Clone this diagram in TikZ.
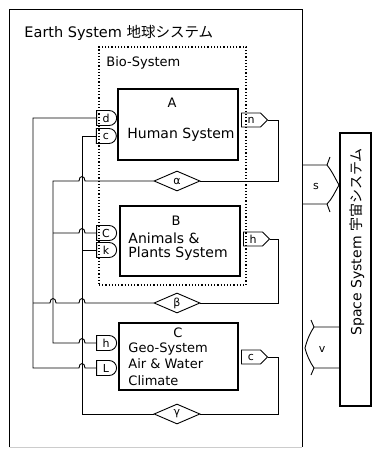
\documentclass[tikz,border=0pt]{standalone}
\usepackage{fontspec}
\setmainfont{DejaVu Sans}
\newfontfamily\jpfont{Noto Sans CJK JP}
\usetikzlibrary{shapes.geometric,shapes.misc,shapes.symbols}
\begin{document}
\begin{tikzpicture}[x=1pt,y=-1pt,line width=0.9pt,
  sysbox/.style={draw,line width=1.1pt,inner sep=0pt},
  inport/.style={draw,rounded rectangle,rounded rectangle west arc=none,minimum width=22pt,minimum height=15pt,inner sep=1pt,font=\fontsize{11}{11}\selectfont},
  outport/.style={draw,signal,signal to=east,minimum width=26pt,minimum height=14pt,inner sep=1pt,font=\fontsize{11}{11}\selectfont},
  junct/.style={draw,diamond,aspect=2.3,minimum width=46pt,minimum height=20pt,inner sep=0pt,font=\fontsize{11}{11}\selectfont},
  lbl/.style={inner sep=0pt,font=\fontsize{13}{14}\selectfont},
  sml/.style={inner sep=0pt,font=\fontsize{11}{11}\selectfont}]
\useasboundingbox (0,0) rectangle (373,449);
\fill[white] (0,0) rectangle (373,449);

% Earth system frame
\node[minimum width=292pt,minimum height=437pt,inner sep=0pt] (earth) at (156,228.5) {};
\draw[line width=1.1pt] (earth.south west) -- (earth.north west) -- (earth.north east) -- (earth.south east);
\draw[gray!40] (earth.south west) -- (earth.south east);
\node[lbl,anchor=west,font=\fontsize{14.5}{15}\selectfont] (etitle) at (24,33) {Earth System {\jpfont 地球システム}};

% Bio-system dotted frame
\node[draw,dotted,line width=1.2pt,minimum width=147pt,minimum height=238pt,inner sep=0pt] (bio) at (172.5,166) {};
\node[lbl,anchor=west] (biotitle) at (106,63) {Bio-System};

% System boxes
\node[sysbox,minimum width=120pt,minimum height=71pt] (A) at (178,124.5) {};
\node[lbl] (Alab) at (172,103) {A};
\node[lbl,font=\fontsize{14}{14}\selectfont] (Atxt) at (181,135) {Human System};

\node[sysbox,minimum width=120pt,minimum height=70pt] (B) at (180,241) {};
\node[lbl] (Blab) at (176,221) {B};
\node[lbl,anchor=west,align=left,font=\fontsize{14}{14}\selectfont] (Btxt) at (128,247) {Animals \&\\Plants System};

\node[sysbox,minimum width=119pt,minimum height=67pt] (C) at (178.5,356.5) {};
\node[lbl] (Clab) at (178,333) {C};
\node[lbl,anchor=west,align=left,font=\fontsize{13}{16.5}\selectfont] (Ctxt) at (128,364) {Geo-System\\Air \& Water\\Climate};

% input ports
\node[inport] (pA1) at (106,118) {d};
\node[inport] (pA2) at (106,136) {c};
\node[inport] (pB1) at (106,233) {C};
\node[inport] (pB2) at (106,250) {k};
\node[inport] (pC1) at (106,343) {h};
\node[inport] (pC2) at (106,368) {L};

% output ports
\node[outport] (oA) at (251,120) {n};
\node[outport] (oB) at (253,239) {h};
\node[outport] (oC) at (251,357) {c};

% junction diamonds
\node[junct] (dAl) at (177,181) {α};
\node[junct] (dBe) at (177,303) {β};
\node[junct] (dGa) at (177,414) {γ};

% A -> alpha
\draw (oA.east) -| (278,181) -- (dAl.east);
% alpha -> B1, C1
\draw (dAl.west) -- (85,181) .. controls (85,175) and (79,175) .. (79,181) -- (53,181) -- (53,343)
      -- (79,343) .. controls (79,337) and (85,337) .. (85,343) -- (pC1.west);
\draw (53,233) -- (79,233) .. controls (79,227) and (85,227) .. (85,233) -- (pB1.west);
% B -> beta
\draw (oB.east) -| (278,303) -- (dBe.east);
\draw (dBe.west) -- (85,303) .. controls (85,297) and (79,297) .. (79,303) -- (56,303)
      .. controls (56,297) and (50,297) .. (50,303) -- (33,303);
% beta -> A1, C2
\draw (pA1.west) -- (33,118) -- (33,368) -- (79,368) .. controls (79,362) and (85,362) .. (85,368) -- (pC2.west);
% C -> gamma
\draw (oC.east) -| (278,414) -- (dGa.east);
% gamma -> A2, B2
\draw (dGa.west) -- (82,414) -- (82,136) -- (pA2.west);
\draw (82,250) -- (pB2.west);

% Space system
\node[sysbox,minimum width=31pt,minimum height=273pt] (space) at (355.5,269.5) {};
\node[lbl,rotate=90,font=\fontsize{14}{14}\selectfont] (stitle) at (357,242) {Space System {\jpfont 宇宙システム}};

% s : Earth -> Space
\draw (302,165) -- (327,165) .. controls (332,171) and (335,178) .. (339,185)
      .. controls (335,192) and (332,199) .. (327,204) -- (302,204);
\draw (327,165) -- (330,157);
\draw (327,204) -- (330,212);
\node[sml] (slab) at (316,186) {s};

% v : Space -> Earth
\draw (340,327) -- (314,327) .. controls (310,333) and (307,340) .. (305,348)
      .. controls (307,356) and (310,362) .. (314,368) -- (340,368);
\draw (314,327) -- (311,320);
\draw (314,368) -- (311,375);
\node[sml] (vlab) at (322,349) {v};
\end{tikzpicture}
\end{document}
